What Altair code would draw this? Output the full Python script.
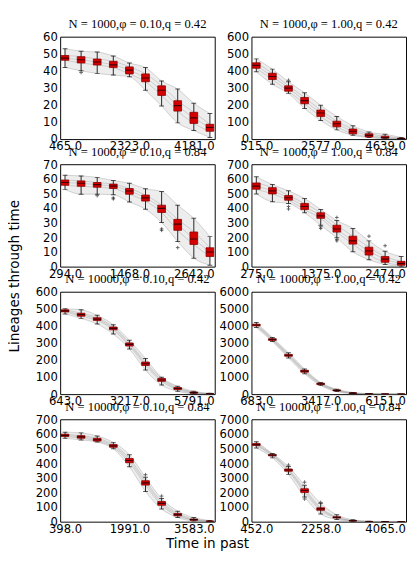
import altair as alt
import pandas as pd

# ---------------- data ----------------
titles = [
    "N = 1000,φ = 0.10,q = 0.42", "N = 1000,φ = 1.00,q = 0.42",
    "N = 1000,φ = 0.10,q = 0.84", "N = 1000,φ = 1.00,q = 0.84",
    "N = 10000,φ = 0.10,q = 0.42", "N = 10000,φ = 1.00,q = 0.42",
    "N = 10000,φ = 0.10,q = 0.84", "N = 10000,φ = 1.00,q = 0.84",
]
y_max = [60, 600, 70, 700, 600, 6000, 700, 7000]
y_step = [10, 100, 10, 100, 100, 1000, 100, 1000]

t1 = [465, 929.5, 1394, 1858.5, 2323, 2787.5, 3252, 3716.5, 4181, 4645.5]
t2 = [515, 1030.5, 1546, 2061.5, 2577, 3092.5, 3608, 4123.5, 4639, 5154.5]
t3 = [294, 587.5, 881, 1174.5, 1468, 1761.5, 2055, 2348.5, 2642, 2935.5]
t4 = [275, 550, 825, 1100, 1375, 1650, 1924, 2199, 2474, 2749]
t5 = [643, 1286.5, 1930, 2573.5, 3217, 3860.5, 4504, 5147.5, 5791, 6434.5]
t6 = [683, 1366.5, 2050, 2733.5, 3417, 4100.5, 4784, 5467.5, 6151, 6834.5]
t7 = [398, 796, 1194, 1593, 1991, 2389, 2787, 3185, 3583, 3981]
t8 = [452, 903, 1355, 1806, 2258, 2710, 3161, 3613, 4065, 4516]

med1 = [47.4, 46.5, 45.2, 43.5, 40.4, 35.8, 28.6, 19.6, 12.4, 6.8]
q1_1 = [46.2, 44.6, 43.4, 41.9, 38.2, 33.6, 25.6, 16.4, 9.2, 4.6]
q3_1 = [49.0, 48.3, 46.9, 45.6, 42.3, 38.2, 31.2, 22.5, 15.7, 8.7]
lo1 = [42, 40, 38.5, 37.5, 36.5, 28.6, 19.4, 9.5, 5, 1]
hi1 = [53, 51.5, 51, 48.7, 44.6, 41.9, 34.1, 29.3, 21, 15]
ok1 = [1]
ov1 = [39]

med2 = [432, 367, 299, 225, 153, 90, 46, 22, 9, 3]
q1_2 = [415, 349, 281, 207, 133, 72, 31, 13, 6, 1]
q3_2 = [447, 386, 312, 244, 170, 105, 59, 31, 17, 5]
lo2 = [395, 321, 268, 179, 109, 54, 22, 9, 2, 0]
hi2 = [470, 410, 336, 271, 198, 133, 78, 41, 28, 10]
ok2 = [2]
ov2 = [345]

med3 = [57.5, 57, 56, 55, 51.7, 47, 39.8, 29, 18.9, 10]
q1_3 = [55.6, 54.9, 54.3, 53.4, 49.5, 44.8, 37, 24.8, 15.1, 6.9]
q3_3 = [59.2, 58.6, 57.5, 56.4, 53.4, 48.9, 42, 32.3, 23.7, 12.9]
lo3 = [52.8, 49.5, 49.5, 49.1, 44.2, 39.2, 30.2, 17.2, 5.8, 1]
hi3 = [62.5, 62, 61, 58.8, 57, 53.2, 51.3, 42, 33, 20.5]
ok3 = [2, 3, 3, 6, 6, 7]
ov3 = [48.5, 46.3, 47, 25.8, 24.8, 13]

med4 = [550, 518, 471, 411, 347, 257, 176, 107, 51, 21]
q1_4 = [529, 497, 454, 390, 330, 236, 154, 79, 30, 9]
q3_4 = [572, 540, 486, 432, 368, 283, 208, 133, 69, 36]
lo4 = [497, 443, 432, 368, 283, 197, 101, 47, 15, 0]
hi4 = [614, 561, 518, 465, 390, 315, 261, 176, 105, 69]
ok4 = [2, 2, 4, 4, 5, 5, 5, 7, 8]
ov4 = [411, 394, 272, 261, 336, 186, 176, 208, 143]

med5 = [488, 466, 440, 385, 292, 178, 83, 33, 9, 2]
q1_5 = [482, 457, 432, 377, 282, 168, 75, 27, 6, 1]
q3_5 = [494, 474, 448, 393, 300, 188, 92, 39, 12, 3]
lo5 = [470, 444, 411, 352, 264, 141, 53, 17, 2, 0]
hi5 = [500, 494, 462, 407, 316, 209, 99, 46, 17, 5]
ok5 = []
ov5 = []

med6 = [4050, 3200, 2280, 1350, 600, 220, 60, 12, 3, 0]
q1_6 = [4000, 3150, 2220, 1290, 560, 195, 48, 8, 1, 0]
q3_6 = [4100, 3250, 2330, 1400, 640, 245, 72, 16, 5, 1]
lo6 = [3900, 3080, 2120, 1200, 500, 150, 25, 2, 0, 0]
hi6 = [4200, 3320, 2420, 1480, 680, 290, 100, 30, 10, 3]
ok6 = []
ov6 = []

med7 = [590, 580, 560, 518, 418, 265, 125, 48, 14, 3]
q1_7 = [582, 571, 551, 509, 403, 250, 112, 40, 10, 1]
q3_7 = [598, 588, 570, 527, 432, 280, 138, 56, 18, 5]
lo7 = [570, 559, 544, 498, 375, 206, 87, 28, 4, 0]
hi7 = [612, 607, 585, 542, 457, 303, 158, 72, 28, 8]
ok7 = [5, 6]
ov7 = [321, 175]

med8 = [5270, 4550, 3530, 2130, 870, 290, 60, 10, 2, 0]
q1_8 = [5200, 4500, 3450, 2000, 780, 250, 45, 5, 0, 0]
q3_8 = [5340, 4600, 3600, 2250, 950, 330, 80, 15, 4, 1]
lo8 = [5043, 4362, 3234, 1681, 532, 149, 15, 0, 0, 0]
hi8 = [5468, 4660, 3766, 2489, 1255, 468, 130, 35, 8, 2]
ok8 = [2, 3, 3, 4]
ov8 = [3872, 2702, 1550, 1319]

series = [
    (t1, med1, q1_1, q3_1, lo1, hi1, ok1, ov1),
    (t2, med2, q1_2, q3_2, lo2, hi2, ok2, ov2),
    (t3, med3, q1_3, q3_3, lo3, hi3, ok3, ov3),
    (t4, med4, q1_4, q3_4, lo4, hi4, ok4, ov4),
    (t5, med5, q1_5, q3_5, lo5, hi5, ok5, ov5),
    (t6, med6, q1_6, q3_6, lo6, hi6, ok6, ov6),
    (t7, med7, q1_7, q3_7, lo7, hi7, ok7, ov7),
    (t8, med8, q1_8, q3_8, lo8, hi8, ok8, ov8),
]

PLUS = "M-1,0L1,0M0,-1L0,1"


def panel(title, ymax, ystep, t, med, q1, q3, lo, hi, ok, ov):
    df = pd.DataFrame({"t": t, "med": med, "q1": q1, "q3": q3, "lo": lo, "hi": hi})
    xs = alt.Scale(domain=[t[0], t[-1]], nice=False, zero=False)
    xa = alt.Axis(values=[t[0], t[4], t[8]], format=".1f", title=None, grid=False,
                  ticks=False, domain=False, labelFlush=False, labelOverlap=False,
                  labelPadding=2)
    ys = alt.Scale(domain=[0, ymax], nice=False)
    ya = alt.Axis(values=list(range(0, ymax + 1, ystep)), format="d", title=None,
                  grid=False, ticks=False, domain=False, labelOverlap=False,
                  labelPadding=3)
    X = alt.X("t:Q", scale=xs, axis=xa)

    base = alt.Chart(df)
    band = base.mark_area(color="#cccccc", opacity=0.35, clip=True,
                          interpolate="monotone").encode(
        x=X, y=alt.Y("lo:Q", scale=ys, axis=ya), y2="hi:Q")
    lines = base.transform_fold(["lo", "q1", "med", "q3", "hi"]).mark_line(
        color="#8c8c8c", strokeWidth=0.7, opacity=0.5, clip=True,
        interpolate="monotone").encode(
        x=X, y=alt.Y("value:Q", scale=ys, axis=ya), detail="key:N")
    whisk = base.mark_rule(color="#222222", strokeWidth=1, clip=True).encode(
        x=X, y=alt.Y("lo:Q", scale=ys, axis=ya), y2="hi:Q")
    caps = base.transform_fold(["lo", "hi"]).mark_tick(
        orient="horizontal", size=5, thickness=1, color="#111111", clip=True).encode(
        x=X, y=alt.Y("value:Q", scale=ys, axis=ya))
    box = base.mark_bar(size=8, color="#d40000", stroke="#8a0000", strokeWidth=0.8,
                        clip=True).encode(
        x=X, y=alt.Y("q1:Q", scale=ys, axis=ya), y2="q3:Q")
    medtick = base.mark_tick(orient="horizontal", size=8, thickness=1.2,
                             color="#000000", clip=True).encode(
        x=X, y=alt.Y("med:Q", scale=ys, axis=ya))
    layers = [band, lines, whisk, caps, box, medtick]
    if ok:
        odf = pd.DataFrame({"t": [t[k] for k in ok], "v": ov})
        outl = alt.Chart(odf).mark_point(shape=PLUS, size=14, filled=False,
                                         color="#222222", strokeWidth=1,
                                         clip=True).encode(
            x=X, y=alt.Y("v:Q", scale=ys, axis=ya))
        layers.append(outl)
    return alt.layer(*layers).properties(
        width=160, height=106,
        title=alt.TitleParams(title, font="Liberation Serif", fontSize=13,
                              fontWeight="normal", color="black", offset=0,
                              anchor="middle", frame="group"))


panels = [panel(titles[i], y_max[i], y_step[i], *series[i]) for i in range(8)]

grid = alt.concat(*panels, columns=2, spacing={"row": 26, "column": 38},
                  bounds="flush").properties(
    title=alt.TitleParams("Lineages through time", orient="left", anchor="middle",
                          font="DejaVu Sans", fontSize=14, fontWeight="normal",
                          color="black", offset=13))

chart = alt.vconcat(grid).properties(
    padding=0,
    title=alt.TitleParams("Time in past", orient="bottom", anchor="middle",
                          font="DejaVu Sans", fontSize=14, fontWeight="normal",
                          color="black", offset=3),
).configure_view(stroke="black", strokeWidth=1).configure_axis(
    labelFont="DejaVu Sans", labelFontSize=12, labelColor="black")

chart.save("out.html", embed_options={"renderer": "svg", "actions": False})
